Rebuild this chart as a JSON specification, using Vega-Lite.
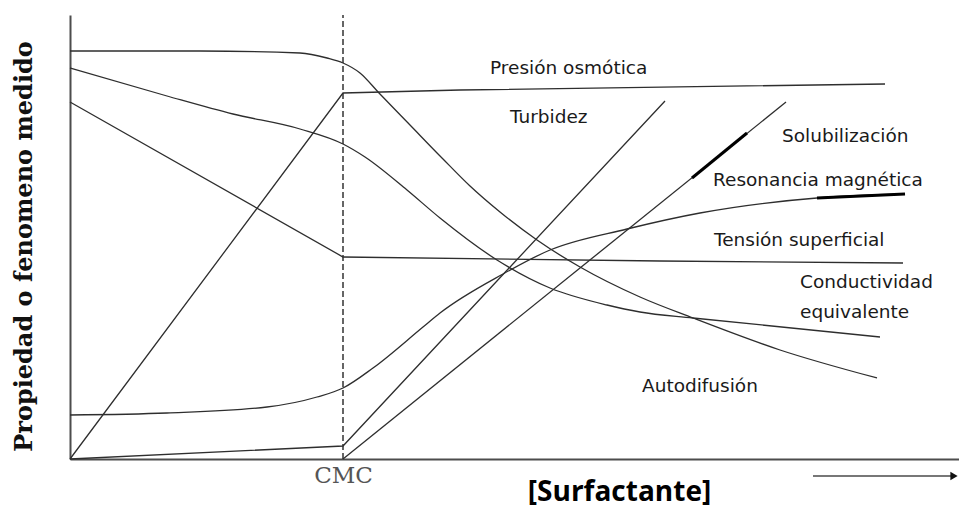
{
  "$schema": "https://vega.github.io/schema/vega-lite/v6.json",
  "width": 889,
  "height": 444,
  "autosize": {"type": "none"},
  "padding": {"left": 70, "top": 15, "right": 0, "bottom": 48},
  "background": "white",
  "config": {"view": {"stroke": null}},
  "datasets": {
    "curvas": [
      {"serie": "Autodifusión", "x": 0, "y": 408},
      {"serie": "Autodifusión", "x": 130, "y": 408},
      {"serie": "Autodifusión", "x": 230, "y": 406},
      {"serie": "Autodifusión", "x": 257, "y": 401},
      {"serie": "Autodifusión", "x": 273, "y": 396},
      {"serie": "Autodifusión", "x": 290, "y": 386},
      {"serie": "Autodifusión", "x": 309, "y": 366},
      {"serie": "Autodifusión", "x": 340, "y": 334},
      {"serie": "Autodifusión", "x": 373, "y": 300},
      {"serie": "Autodifusión", "x": 400, "y": 273},
      {"serie": "Autodifusión", "x": 430, "y": 247},
      {"serie": "Autodifusión", "x": 467, "y": 219},
      {"serie": "Autodifusión", "x": 510, "y": 192},
      {"serie": "Autodifusión", "x": 570, "y": 162},
      {"serie": "Autodifusión", "x": 623, "y": 141},
      {"serie": "Autodifusión", "x": 710, "y": 109},
      {"serie": "Autodifusión", "x": 807, "y": 81},
      {"serie": "Conductividad equivalente", "x": 0, "y": 391},
      {"serie": "Conductividad equivalente", "x": 97, "y": 363},
      {"serie": "Conductividad equivalente", "x": 163, "y": 345},
      {"serie": "Conductividad equivalente", "x": 230, "y": 330},
      {"serie": "Conductividad equivalente", "x": 273, "y": 315},
      {"serie": "Conductividad equivalente", "x": 295, "y": 302},
      {"serie": "Conductividad equivalente", "x": 337, "y": 269},
      {"serie": "Conductividad equivalente", "x": 370, "y": 241},
      {"serie": "Conductividad equivalente", "x": 427, "y": 199},
      {"serie": "Conductividad equivalente", "x": 480, "y": 171},
      {"serie": "Conductividad equivalente", "x": 537, "y": 154},
      {"serie": "Conductividad equivalente", "x": 570, "y": 147},
      {"serie": "Conductividad equivalente", "x": 623, "y": 141},
      {"serie": "Conductividad equivalente", "x": 810, "y": 122},
      {"serie": "Tensión superficial", "x": 0, "y": 357},
      {"serie": "Tensión superficial", "x": 273, "y": 202},
      {"serie": "Tensión superficial", "x": 590, "y": 198},
      {"serie": "Tensión superficial", "x": 833, "y": 196},
      {"serie": "Presión osmótica", "x": 0, "y": 0},
      {"serie": "Presión osmótica", "x": 273, "y": 366},
      {"serie": "Presión osmótica", "x": 390, "y": 369},
      {"serie": "Presión osmótica", "x": 815, "y": 375},
      {"serie": "Resonancia magnética", "x": 0, "y": 44},
      {"serie": "Resonancia magnética", "x": 97, "y": 46},
      {"serie": "Resonancia magnética", "x": 197, "y": 52},
      {"serie": "Resonancia magnética", "x": 247, "y": 62},
      {"serie": "Resonancia magnética", "x": 273, "y": 71},
      {"serie": "Resonancia magnética", "x": 303, "y": 91},
      {"serie": "Resonancia magnética", "x": 353, "y": 132},
      {"serie": "Resonancia magnética", "x": 370, "y": 146},
      {"serie": "Resonancia magnética", "x": 433, "y": 185},
      {"serie": "Resonancia magnética", "x": 480, "y": 209},
      {"serie": "Resonancia magnética", "x": 557, "y": 230},
      {"serie": "Resonancia magnética", "x": 630, "y": 246},
      {"serie": "Resonancia magnética", "x": 747, "y": 261},
      {"serie": "Resonancia magnética", "x": 835, "y": 265},
      {"serie": "Turbidez", "x": 0, "y": 0},
      {"serie": "Turbidez", "x": 273, "y": 13},
      {"serie": "Turbidez", "x": 595, "y": 358},
      {"serie": "Solubilización", "x": 273, "y": 0},
      {"serie": "Solubilización", "x": 716, "y": 357}
    ],
    "tramos": [
      {"serie": "Solubilización", "x": 622, "y": 281},
      {"serie": "Solubilización", "x": 677, "y": 326},
      {"serie": "Resonancia magnética", "x": 747, "y": 261},
      {"serie": "Resonancia magnética", "x": 835, "y": 265}
    ],
    "etiquetas": [
      {"texto": "Presión osmótica", "x": 420, "y": 385},
      {"texto": "Turbidez", "x": 440, "y": 336},
      {"texto": "Solubilización", "x": 712, "y": 317},
      {"texto": "Resonancia magnética", "x": 643, "y": 273},
      {"texto": "Tensión superficial", "x": 644, "y": 213},
      {"texto": "Conductividad", "x": 730, "y": 171},
      {"texto": "equivalente", "x": 730, "y": 141},
      {"texto": "Autodifusión", "x": 572, "y": 67}
    ]
  },
  "encoding": {
    "x": {
      "field": "x",
      "type": "quantitative",
      "scale": {"domain": [0, 889], "nice": false, "zero": false},
      "axis": {
        "title": "[Surfactante]",
        "values": [273],
        "labelExpr": "'CMC'",
        "ticks": false,
        "grid": false,
        "domainColor": "#4d4d4d",
        "domainWidth": 2,
        "labelFont": "DejaVu Serif",
        "labelFontSize": 23,
        "labelColor": "#555555",
        "labelBaseline": "middle",
        "labelPadding": 16,
        "labelFlush": false,
        "labelOverlap": false,
        "titleFont": "Open Sans",
        "titleFontWeight": "bold",
        "titleFontSize": 28,
        "titleColor": "#000000",
        "titleX": 549,
        "titleY": 33,
        "titleAlign": "center",
        "titleBaseline": "middle"
      }
    },
    "y": {
      "field": "y",
      "type": "quantitative",
      "scale": {"domain": [0, 444], "nice": false},
      "axis": {
        "title": "Propiedad o fenomeno medido",
        "ticks": false,
        "labels": false,
        "grid": false,
        "domainColor": "#4d4d4d",
        "domainWidth": 2,
        "titleFont": "DejaVu Serif",
        "titleFontWeight": "bold",
        "titleFontSize": 24,
        "titleColor": "#111111",
        "titleX": -46,
        "titleY": 231,
        "titleAngle": -90,
        "titleAlign": "center",
        "titleBaseline": "middle"
      }
    }
  },
  "layer": [
    {
      "data": {"values": [{"x": 273, "y": 0, "y2": 444}]},
      "mark": {"type": "rule", "color": "#333333", "strokeWidth": 1.5, "strokeDash": [6, 3]},
      "encoding": {"y2": {"field": "y2"}}
    },
    {
      "data": {"name": "curvas"},
      "transform": [{"filter": {"field": "serie", "oneOf": ["Tensión superficial", "Presión osmótica", "Turbidez", "Solubilización"]}}],
      "mark": {"type": "line", "color": "#2e2e2e", "strokeWidth": 1.3, "interpolate": "linear"},
      "encoding": {"detail": {"field": "serie"}, "order": {"field": "x"}}
    },
    {
      "data": {"name": "curvas"},
      "transform": [{"filter": {"field": "serie", "oneOf": ["Autodifusión", "Conductividad equivalente", "Resonancia magnética"]}}],
      "mark": {"type": "line", "color": "#2e2e2e", "strokeWidth": 1.3, "interpolate": "monotone"},
      "encoding": {"detail": {"field": "serie"}, "order": {"field": "x"}}
    },
    {
      "data": {"name": "tramos"},
      "mark": {"type": "line", "color": "#000000", "strokeWidth": 3},
      "encoding": {"detail": {"field": "serie"}, "order": {"field": "x"}}
    },
    {
      "data": {"name": "etiquetas"},
      "mark": {"type": "text", "font": "DejaVu Sans", "fontSize": 18.5, "color": "#1a1a1a", "align": "left", "baseline": "alphabetic"},
      "encoding": {"text": {"field": "texto"}}
    },
    {
      "data": {"values": [{"x": 743, "x2": 881, "y": -17}]},
      "mark": {"type": "rule", "color": "#777777", "strokeWidth": 2},
      "encoding": {"x2": {"field": "x2"}}
    },
    {
      "data": {"values": [{"x": 884, "y": -17}]},
      "mark": {"type": "point", "shape": "triangle-right", "size": 70, "filled": true, "color": "#111111", "opacity": 1},
      "encoding": {}
    }
  ]
}
